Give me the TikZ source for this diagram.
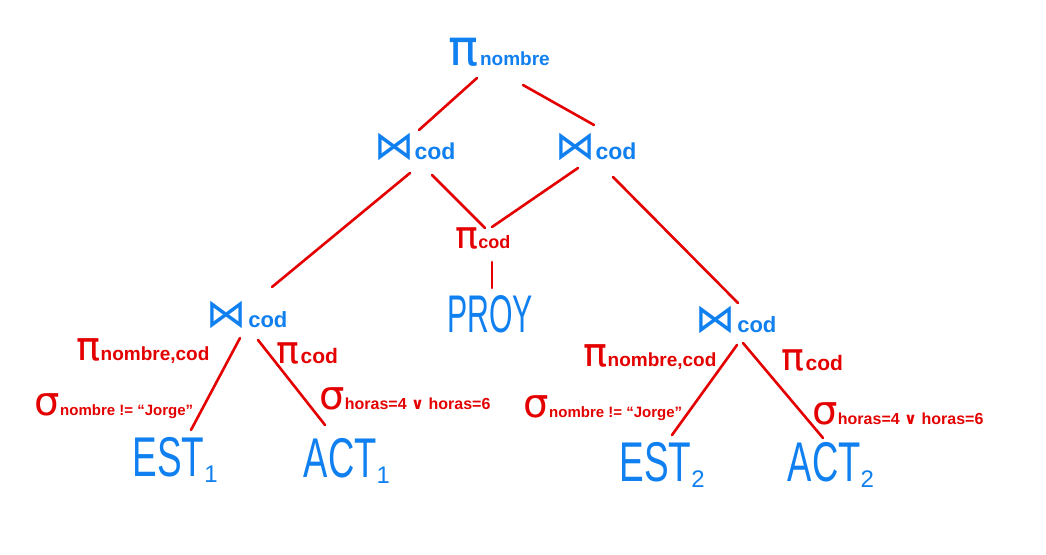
\documentclass[tikz,border=0pt]{standalone}
\usepackage{fontspec}
\usepackage{graphicx}
\setmainfont{Liberation Sans}
\newfontfamily\symf{DejaVu Sans}
\usetikzlibrary{calc}
\definecolor{opblue}{RGB}{16,128,240}
\definecolor{labred}{RGB}{228,0,0}
\newcommand{\fs}[1]{\fontsize{#1}{#1}\selectfont}
\newcommand{\Jn}[1]{{\symf\fs{#1}⋈}}
\newcommand{\Pg}[1]{{\symf\fs{#1}π}}
\newcommand{\Sg}[1]{{\symf\fs{#1}σ}}
\newcommand{\tx}[2]{{\bfseries\fs{#1}#2}}
\tikzset{
  op/.style={text=opblue, inner sep=0pt, anchor=center},
  rel/.style={text=opblue, inner sep=0pt, anchor=center},
  lab/.style={text=labred, inner sep=0pt, anchor=center},
  edge/.style={draw=labred, line width=2.6pt, line cap=round}
}
\begin{document}
\begin{tikzpicture}[x=1pt,y=-1pt]
\useasboundingbox[fill=white] (0,0) rectangle (1046,554);
% operators
\node[op] (top) at (499,52) {\Pg{50}\,\tx{19}{nombre}};
\node[op] (j1) at (415,147) {\Jn{40}\tx{23}{cod}};
\node[op] (j2) at (596,147) {\Jn{40}\tx{23}{cod}};
\node[lab] (pc) at (483,238) {\Pg{38}\tx{18}{cod}};
\node[op] (j3) at (247,315) {\Jn{40}\,\tx{22}{cod}};
\node[op] (j4) at (736,320) {\Jn{40}\,\tx{22}{cod}};
% relations
\node[rel] (proy) at (490,314) {\scalebox{0.57}[1]{\fs{53}PROY}};
\node[rel] (est1) at (175,460) {\scalebox{0.66}[1]{\fs{56}EST}\raisebox{-6pt}{\fs{24}1}};
\node[rel] (act1) at (347,461) {\scalebox{0.65}[1]{\fs{56}ACT}\raisebox{-6pt}{\fs{24}1}};
\node[rel] (est2) at (662,465) {\scalebox{0.66}[1]{\fs{56}EST}\raisebox{-6pt}{\fs{24}2}};
\node[rel] (act2) at (831,465) {\scalebox{0.65}[1]{\fs{56}ACT}\raisebox{-6pt}{\fs{24}2}};
% labels left subtree
\node[lab] (l1) at (143,351) {\Pg{40}\tx{19}{nombre,cod}};
\node[lab] (l2) at (307,353) {\Pg{38}\,\tx{21}{cod}};
\node[lab] (l3) at (114,406) {\Sg{40}\tx{15}{nombre != “Jorge”}};
\node[lab] (l4) at (405,399) {\Sg{40}\tx{16}{horas=4 {\symf∨} horas=6}};
% labels right subtree
\node[lab] (r1) at (650,357) {\Pg{40}\tx{19}{nombre,cod}};
\node[lab] (r2) at (812,360) {\Pg{38}\,\tx{21}{cod}};
\node[lab] (r3) at (603,408) {\Sg{40}\tx{15}{nombre != “Jorge”}};
\node[lab] (r4) at (898,414) {\Sg{40}\tx{16}{horas=4 {\symf∨} horas=6}};
% edges
\draw[edge] ($(top)+(-22,26)$) -- ($(j1)+(4,-17)$);
\draw[edge] ($(top)+(24,33)$) -- ($(j2)+(-2,-22)$);
\draw[edge] ($(j1)+(-5,26)$) -- ($(j3)+(25,-28)$);
\draw[edge] ($(j1)+(17,28)$) -- ($(pc)+(2,-10)$);
\draw[edge] ($(j2)+(-18,21)$) -- ($(pc)+(9,-11)$);
\draw[edge] ($(j2)+(17,30)$) -- ($(j4)+(2,-17)$);
\draw[edge] ($(pc)+(9,24)$) -- ($(proy)+(2,-26)$);
\draw[edge] ($(j3)+(-7,23)$) -- ($(est1)+(16,-30)$);
\draw[edge] ($(j3)+(11,25)$) -- ($(act1)+(-22,-36)$);
\draw[edge] ($(j4)+(1,25)$) -- ($(est2)+(10,-30)$);
\draw[edge] ($(j4)+(7,23)$) -- ($(act2)+(-8,-27)$);
\end{tikzpicture}
\end{document}
